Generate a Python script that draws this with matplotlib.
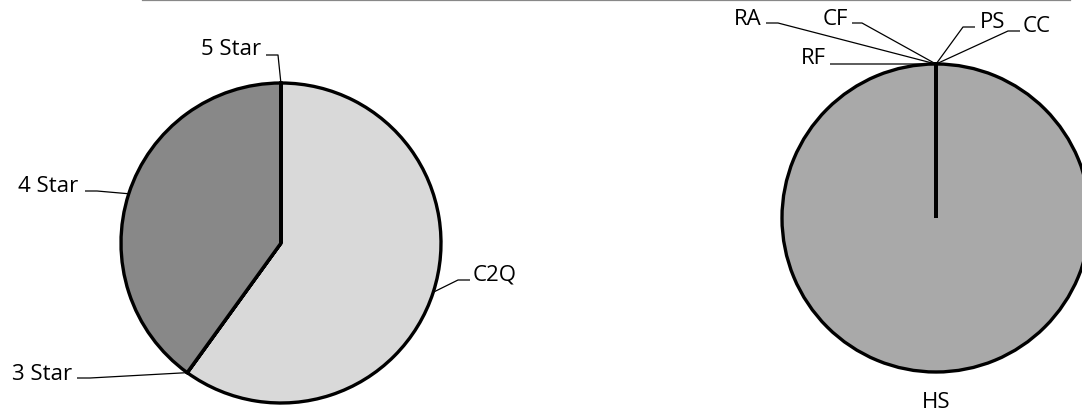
import numpy as np
import matplotlib
matplotlib.use("Agg")
import matplotlib.pyplot as plt

plt.rcParams['font.family'] = ['Open Sans', 'DejaVu Sans']

# ---- data ----
left_labels = ["C2Q", "3 Star", "4 Star", "5 Star"]
left_values = [59.95, 0.02, 40.0, 0.02]
left_colors = ["#d9d9d9", "#bfbfbf", "#888888", "#595959"]

right_labels = ["PS", "CC", "HS", "RF", "RA", "CF"]
right_values = [0.01, 0.01, 99.95, 0.01, 0.01, 0.01]
right_colors = ["#a9a9a9"] * 6

W, H = 1082, 414
fig = plt.figure(figsize=(W / 100, H / 100), dpi=100)
ax = fig.add_axes([0, 0, 1, 1])

def Y(y):
    return H - y

# layout: text anchor (x, baseline y), ha, elbow, end (pixel coords, y down)
left_layout = {
    "C2Q":    ((473, 281), "left",  (458, 281), (470, 281)),
    "5 Star": ((261, 55),  "right", (278, 56),  (266, 56)),
    "4 Star": ((78, 192),  "right", (97, 192),  (85, 192)),
    "3 Star": ((72, 380),  "right", (90, 379),  (77, 379)),
}
right_layout = {
    "RA": ((762, 25), "right", (778, 24), (766, 24)),
    "CF": ((848, 25), "right", (862, 24), (852, 24)),
    "RF": ((826, 64), "right", (830, 65), (830, 65)),
    "PS": ((980, 28), "left",  (963, 28), (975, 28)),
    "CC": ((1023, 32), "left", (1008, 32), (1020, 32)),
}

FS = 16

def draw_pie(values, labels, colors, center, radius, layout):
    cx, cy = center
    wedges, _ = ax.pie(values, colors=colors, startangle=90, counterclock=False,
                       center=(cx, Y(cy)), radius=radius,
                       wedgeprops=dict(edgecolor="black", linewidth=2.4))
    for w, lab in zip(wedges, labels):
        mid = np.deg2rad((w.theta1 + w.theta2) / 2)
        px = cx + radius * np.cos(mid)
        py = Y(cy) + radius * np.sin(mid)
        if lab in layout:
            (tx, ty), ha, elbow, end = layout[lab]
            ax.plot([px, elbow[0], end[0]], [py, Y(elbow[1]), Y(end[1])],
                    color="black", lw=0.9, solid_capstyle="butt", zorder=3)
            ax.text(tx, Y(ty), lab, ha=ha, va="baseline", fontsize=FS, color="black")
        else:
            d = radius * 1.19
            ax.text(cx + d * np.cos(mid), Y(cy) + d * np.sin(mid), lab,
                    ha="center", va="center", fontsize=FS, color="black")

draw_pie(left_values, left_labels, left_colors, (281, 244), 160, left_layout)
draw_pie(right_values, right_labels, right_colors, (936, 219), 154, right_layout)

# top border fragment
ax.plot([143, 1070], [Y(1), Y(1)], color="#888888", lw=1.6, clip_on=False)

ax.set_xlim(0, W)
ax.set_ylim(0, H)
ax.set_aspect("equal")
ax.axis("off")

fig.savefig("out.png", dpi=100)
